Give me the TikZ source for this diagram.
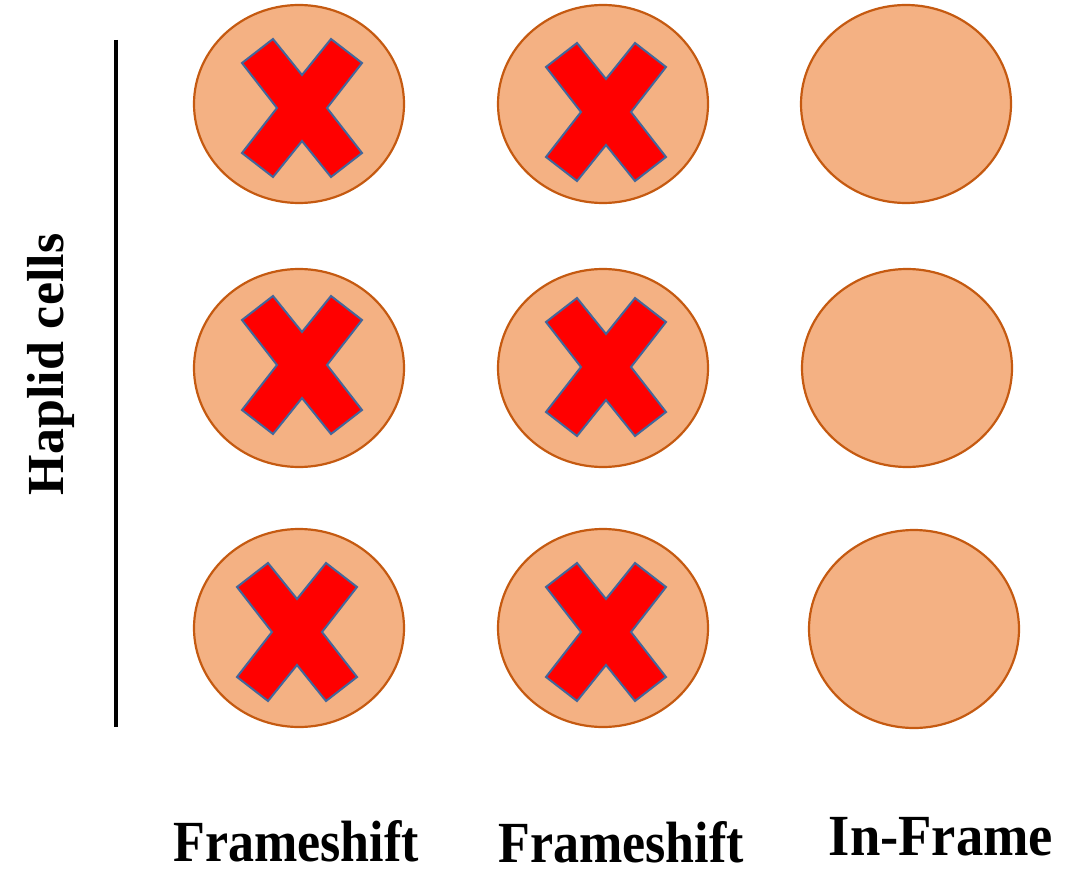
\documentclass[tikz,border=0pt]{standalone}
\usepackage{fontspec}
\setmainfont{Liberation Serif}
\usetikzlibrary{shapes.geometric}
\definecolor{cellfill}{HTML}{F4B183}
\definecolor{celldraw}{HTML}{C55A11}
\definecolor{crossblue}{HTML}{41679C}
\tikzset{
  cell/.style={ellipse, fill=cellfill, draw=celldraw, line width=2.2pt, minimum width=210pt, minimum height=198pt, inner sep=0pt},
  lbl/.style={font=\fontsize{52}{60}\selectfont\bfseries, anchor=base, inner sep=0pt, yscale=1.12},
  xmark/.pic={\path[fill=red, draw=crossblue, line width=2pt, line join=miter]
    (-29,-69) -- (-60,-45) -- (-25,0) -- (-60,45) -- (-29,69) -- (0,33) -- (29,69) -- (60,45) -- (25,0) -- (60,-45) -- (29,-69) -- (0,-33) -- cycle;}
}
\begin{document}
\begin{tikzpicture}[x=1pt,y=-1pt]
\useasboundingbox (0,0) rectangle (1081,869);
% row 1
\node[cell] (c11) at (299,104) {};
\node[cell] (c12) at (603,104) {};
\node[cell] (c13) at (906,104) {};
% row 2
\node[cell] (c21) at (299,368) {};
\node[cell] (c22) at (603,368) {};
\node[cell] (c23) at (907,368) {};
% row 3
\node[cell] (c31) at (299,628) {};
\node[cell] (c32) at (603,628) {};
\node[cell] (c33) at (914,629) {};
% crosses
\pic at (302,108) {xmark};
\pic at (606,112) {xmark};
\pic at (302,365) {xmark};
\pic at (606,367) {xmark};
\pic at (297,632) {xmark};
\pic at (606,632) {xmark};
% vertical bar
\coordinate (bt) at (116,40);
\coordinate (bb) at (116,727);
\draw[line width=4pt] (bt) -- (bb);
% labels
\node[font=\fontsize{52}{60}\selectfont\bfseries, anchor=base, inner sep=0pt, rotate=90] (hap) at (63,364.5) {Haplid cells};
\node[lbl] (f1) at (296,861) {Frameshift};
\node[lbl] (f2) at (621,862) {Frameshift};
\node[lbl, xscale=1.05] (inf) at (941,855) {In-Frame};
\end{tikzpicture}
\end{document}
